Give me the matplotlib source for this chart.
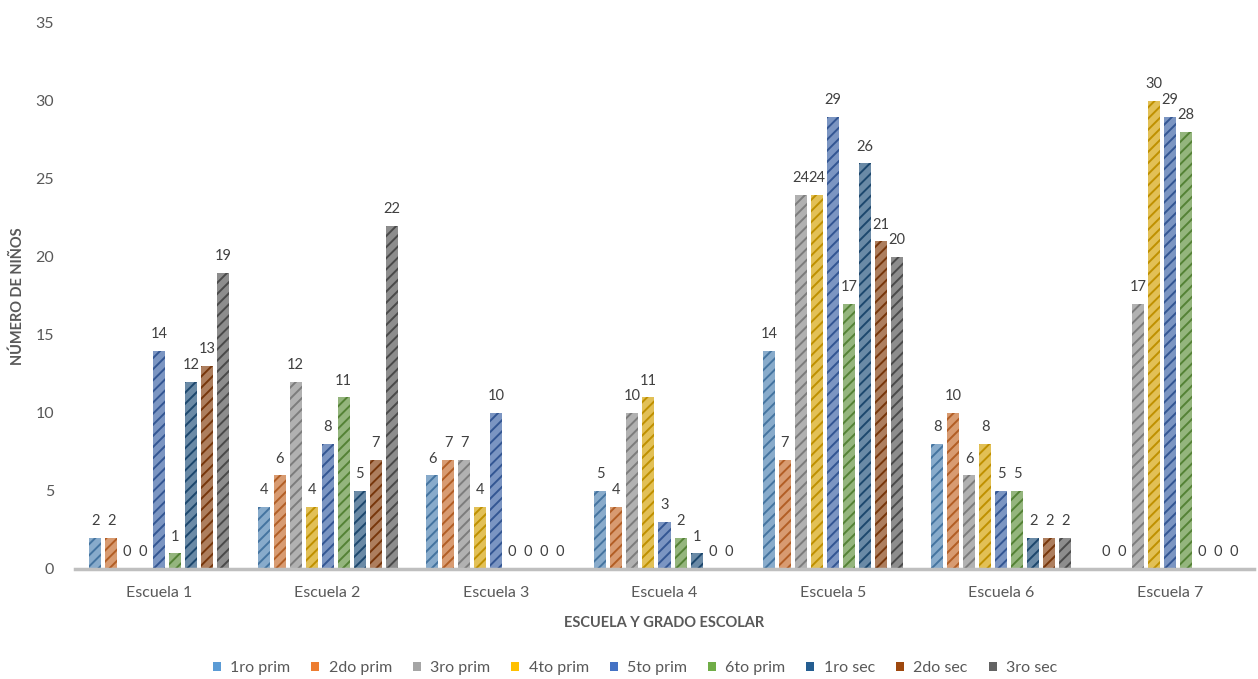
import matplotlib
matplotlib.use("Agg")
import matplotlib.pyplot as plt
import matplotlib.colors as mcolors
import numpy as np
from matplotlib.patches import Patch

schools = ["Escuela 1", "Escuela 2", "Escuela 3", "Escuela 4", "Escuela 5", "Escuela 6", "Escuela 7"]
grades = ["1ro prim", "2do prim", "3ro prim", "4to prim", "5to prim", "6to prim", "1ro sec", "2do sec", "3ro sec"]
v_1ro_prim = [2, 4, 6, 5, 14, 8, 0]
v_2do_prim = [2, 6, 7, 4, 7, 10, 0]
v_3ro_prim = [0, 12, 7, 10, 24, 6, 17]
v_4to_prim = [0, 4, 4, 11, 24, 8, 30]
v_5to_prim = [14, 8, 10, 3, 29, 5, 29]
v_6to_prim = [1, 11, 0, 2, 17, 5, 28]
v_1ro_sec = [12, 5, 0, 1, 26, 2, 0]
v_2do_sec = [13, 7, 0, 0, 21, 2, 0]
v_3ro_sec = [19, 22, 0, 0, 20, 2, 0]
series = [v_1ro_prim, v_2do_prim, v_3ro_prim, v_4to_prim, v_5to_prim,
          v_6to_prim, v_1ro_sec, v_2do_sec, v_3ro_sec]
colors = ["#5B9BD5", "#ED7D31", "#A5A5A5", "#FFC000", "#4472C4",
          "#70AD47", "#255E91", "#9E480E", "#636363"]

plt.rcParams['font.family'] = ['Lato', 'DejaVu Sans']
plt.rcParams['hatch.linewidth'] = 1.4
txt = "#595959"

fig = plt.figure(figsize=(12.58, 6.79), dpi=100)
ax = fig.add_axes([75/1258, 1-569/679, 1179/1258, (569-23)/679])

x = np.arange(len(schools))
step = 16/168.4
width = 12/168.4

def mix(c, f, target=(0.75, 0.75, 0.75)):
    r, g, b = mcolors.to_rgb(c)
    tr, tg, tb = target
    return (r + (tr-r)*f, g + (tg-g)*f, b + (tb-b)*f)

def darken(c, f):
    r, g, b = mcolors.to_rgb(c)
    return (r*f, g*f, b*f)

for i, (vals, c, name) in enumerate(zip(series, colors, grades)):
    pos = x + (i - 4) * step
    bars = ax.bar(pos, vals, width, facecolor=mix(c, 0.45), edgecolor=darken(c, 0.75),
                  hatch='///', linewidth=0, label=name)
    ax.bar_label(bars, labels=[str(v) for v in vals], padding=7, fontsize=10.5, color="#404040")

ax.set_xlim(-0.5, 6.5)
ax.set_ylim(0, 35)
ax.set_yticks(range(0, 36, 5))
ax.set_xticks(x)
ax.set_xticklabels(schools)
ax.tick_params(axis='both', length=0, labelsize=11.5, colors=txt)
ax.tick_params(axis='y', pad=15)
ax.tick_params(axis='x', pad=12)
for s in ['top', 'right', 'left']:
    ax.spines[s].set_visible(False)
ax.spines['bottom'].set_color("#BFBFBF")
ax.spines['bottom'].set_linewidth(2.5)

fig.text(18/1258, 1-296/679, "NÚMERO DE NIÑOS", rotation=90, ha='center', va='center',
         fontsize=10.5, fontweight='bold', color=txt)
fig.text((75+1254)/2/1258, 1-623/679, "ESCUELA Y GRADO ESCOLAR", ha='center', va='center',
         fontsize=10.5, fontweight='bold', color=txt)

handles = [Patch(facecolor=c, edgecolor='none') for c in colors]
fig.legend(handles, grades, loc='center', bbox_to_anchor=(635/1258, 1-668/679),
           ncol=9, frameon=False, fontsize=11.5, handlelength=0.5, handleheight=0.5,
           handletextpad=0.6, columnspacing=1.3, labelcolor=txt)

fig.savefig("out.png", dpi=100)
